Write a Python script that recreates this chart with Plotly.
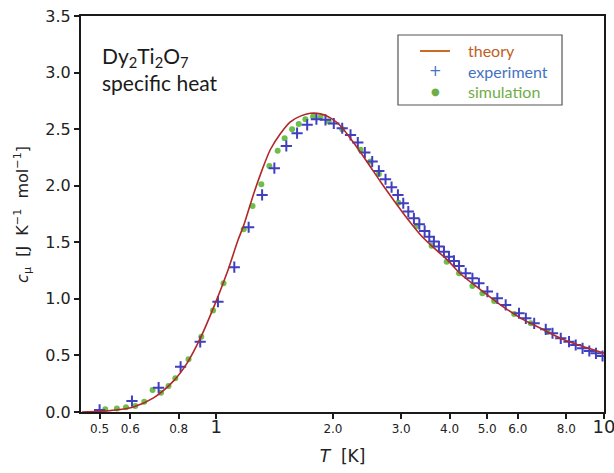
import plotly.graph_objects as go

# ---- data ----
theory_T = [0.45, 0.5, 0.55, 0.611, 0.689, 0.776, 0.84, 0.909, 0.994, 1.066, 1.138, 1.177,
            1.249, 1.313, 1.379, 1.463, 1.553, 1.648, 1.749, 1.857, 1.97, 2.09, 2.25, 2.45,
            2.653, 2.872, 3.109, 3.366, 3.643, 3.945, 4.27, 4.81, 5.42, 6.10, 6.87, 7.74,
            8.72, 10.0]
theory_c = [0.0, 0.006, 0.018, 0.045, 0.125, 0.275, 0.43, 0.65, 0.96, 1.23, 1.52, 1.65,
            1.93, 2.14, 2.32, 2.46, 2.565, 2.615, 2.64, 2.635, 2.60, 2.53, 2.39, 2.21,
            2.035, 1.87, 1.71, 1.565, 1.45, 1.345, 1.22, 1.08, 0.945, 0.83, 0.74, 0.65,
            0.585, 0.52]

exp_T = [0.5, 0.606, 0.710, 0.809, 0.909, 1.01, 1.113, 1.212, 1.313, 1.412, 1.516, 1.616,
         1.716, 1.813, 1.913, 2.01, 2.113, 2.22, 2.318, 2.417, 2.525, 2.627, 2.733, 2.833,
         2.942, 3.037, 3.129, 3.235, 3.341, 3.448, 3.545, 3.643, 3.753, 3.867, 3.984, 4.104,
         4.23, 4.40, 4.58, 4.76, 5.006, 5.31, 5.58, 6.04, 6.29, 6.61, 7.08, 7.37, 7.74,
         8.13, 8.46, 8.81, 9.17, 9.54, 9.92]
exp_c = [0.018, 0.097, 0.215, 0.40, 0.62, 0.975, 1.28, 1.633, 1.919, 2.155, 2.352, 2.464,
         2.538, 2.588, 2.582, 2.55, 2.508, 2.449, 2.381, 2.293, 2.213, 2.131, 2.057, 1.987,
         1.919, 1.845, 1.771, 1.712, 1.66, 1.60, 1.55, 1.506, 1.462, 1.417, 1.373, 1.335,
         1.29, 1.226, 1.182, 1.138, 1.064, 1.005, 0.946, 0.873, 0.828, 0.784, 0.731, 0.696,
         0.651, 0.622, 0.592, 0.563, 0.539, 0.519, 0.495]

sim_T = [0.517, 0.554, 0.585, 0.618, 0.652, 0.685, 0.72, 0.753, 0.784, 0.848, 0.915, 0.981,
         1.044, 1.177, 1.241, 1.307, 1.371, 1.44, 1.501, 1.569, 1.632, 1.698, 1.777, 1.857,
         1.95, 2.113, 2.356, 2.50, 2.627, 2.95, 3.287, 3.594, 3.93, 4.23, 4.58, 4.86, 5.21,
         5.87, 6.48, 7.15]
sim_c = [0.024, 0.03, 0.041, 0.053, 0.091, 0.195, 0.171, 0.23, 0.298, 0.466, 0.666, 0.896,
         1.138, 1.615, 1.821, 2.013, 2.175, 2.31, 2.42, 2.50, 2.546, 2.588, 2.611, 2.606,
         2.567, 2.5, 2.317, 2.213, 2.104, 1.85, 1.645, 1.47, 1.329, 1.226, 1.114, 1.049, 0.981,
         0.866, 0.784, 0.71]

x_tickvals = [0.5, 0.6, 0.8, 1, 2, 3, 4, 5, 6, 8, 10]
x_ticktext = ["0.5", "0.6", "0.8", "<span style='font-size:18px'>1</span>", "2.0", "3.0",
              "4.0", "5.0", "6.0", "8.0", "<span style='font-size:18px'>10</span>"]
y_tickvals = [0.0, 0.5, 1.0, 1.5, 2.0, 2.5, 3.0, 3.5]
y_ticktext = ["0.0", "0.5", "1.0", "1.5", "2.0", "2.5", "3.0", "3.5"]

legend_labels = ["theory", "experiment", "simulation"]
legend_colors = ["#c0601e", "#4472c4", "#70ad47"]

fig = go.Figure()

fig.add_trace(go.Scatter(x=sim_T, y=sim_c, mode="markers", showlegend=False, name="simulation",
                         marker=dict(symbol="circle", size=6, color="#6cbf4a")))
fig.add_trace(go.Scatter(x=exp_T, y=exp_c, mode="markers", showlegend=False, name="experiment",
                         marker=dict(symbol="cross-thin", size=8, color="#3f3fbf",
                                     line=dict(width=2, color="#3f3fbf"))))
fig.add_trace(go.Scatter(x=theory_T, y=theory_c, mode="lines", showlegend=False, name="theory",
                         line=dict(color="#b0282a", width=1.6, shape="spline", smoothing=0.8)))

axis_common = dict(showline=True, linecolor="#1a1a1a", linewidth=2, mirror=True,
                   showgrid=False, zeroline=False, ticks="outside", ticklen=5,
                   tickwidth=1.5, tickcolor="#1a1a1a", automargin=False,
                   ticklabeloverflow="allow")

fig.update_xaxes(type="log", range=[-0.349, 1.0003], tickvals=x_tickvals, ticktext=x_ticktext,
                 tickfont=dict(family="DejaVu Sans", size=12, color="#222"),
                 title=dict(text="<i>T</i>  [K]", font=dict(family="DejaVu Sans", size=17, color="#222"),
                            standoff=14),
                 **axis_common)
fig.update_yaxes(range=[0, 3.5], tickvals=y_tickvals, ticktext=y_ticktext,
                 tickfont=dict(family="DejaVu Sans", size=16, color="#222"),
                 **axis_common)

# y axis title (placed as rotated text left of the tick labels)
fig.add_annotation(xref="paper", yref="paper", x=-0.113, y=0.5, xanchor="center", yanchor="middle",
                   textangle=-90, showarrow=False,
                   text="<i>c</i><sub>μ</sub>  [J  K<sup>−1</sup>  mol<sup>−1</sup>]",
                   font=dict(family="DejaVu Sans", size=16, color="#222"))

# text label in upper left
fig.add_annotation(xref="paper", yref="paper", x=0.036, y=0.937, xanchor="left", yanchor="top",
                   align="left", showarrow=False,
                   text="Dy<sub>2</sub>Ti<sub>2</sub>O<sub>7</sub><br>specific heat",
                   font=dict(family="Lato", size=21, color="#1a1a1a"))

# manual legend (box, sample marks, coloured labels)
fig.add_shape(type="rect", xref="paper", yref="paper", x0=0.6061, x1=0.9197, y0=0.7753, y1=0.952,
              line=dict(color="#555", width=1.2), fillcolor="white", layer="above")
fig.add_shape(type="line", xref="paper", yref="paper", x0=0.6482, x1=0.7055, y0=0.9116, y1=0.9116,
              line=dict(color="#c55a11", width=1.8), layer="above")
fig.add_annotation(xref="paper", yref="paper", x=0.6769, y=0.8611, showarrow=False,
                   xanchor="center", yanchor="middle", text="+",
                   font=dict(family="DejaVu Sans", size=15, color="#4472c4"))
fig.add_annotation(xref="paper", yref="paper", x=0.6769, y=0.8106, showarrow=False,
                   xanchor="center", yanchor="middle", text="●",
                   font=dict(family="DejaVu Sans", size=10, color="#70ad47"))
legend_y = [0.9141, 0.8611, 0.8106]
for lab, col, ly in zip(legend_labels, legend_colors, legend_y):
    fig.add_annotation(xref="paper", yref="paper", x=0.7361, y=ly, showarrow=False,
                       xanchor="left", yanchor="middle", text=lab,
                       font=dict(family="Lato", size=16, color=col))

fig.update_layout(
    width=614, height=473,
    margin=dict(l=81, r=10, t=16, b=61),
    paper_bgcolor="white", plot_bgcolor="white",
    showlegend=False,
)

fig.write_html("out.html")
